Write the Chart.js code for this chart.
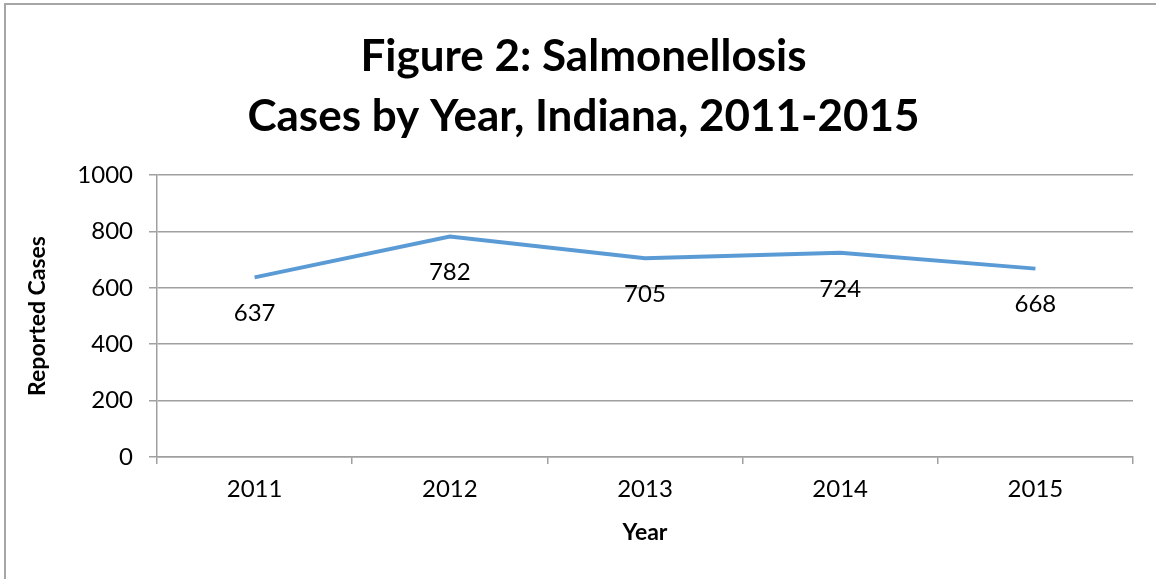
<!DOCTYPE html>
<html>
<head>
<meta charset="utf-8">
<script src="https://cdn.jsdelivr.net/npm/chart.js@4.4.1/dist/chart.umd.min.js"></script>
<style>
  html, body { margin: 0; padding: 0; background: #fff; }
  #wrap { width: 1156px; height: 579px; position: relative; }
</style>
</head>
<body>
<div id="wrap"><canvas id="myChart" width="1156" height="579"></canvas></div>
<script>
// chart data
const years = ["2011", "2012", "2013", "2014", "2015"];
const cases = [637, 782, 705, 724, 668];
const titleLines = ["Figure 2: Salmonellosis", "Cases by Year, Indiana, 2011-2015"];

const FONT = "Lato, 'Noto Sans', sans-serif";
const GRID = "#a0a0a0";

// outer frame of the figure (only top and left edges show)
const framePlugin = {
  id: "frame",
  beforeDraw(chart) {
    const ctx = chart.ctx;
    ctx.save();
    ctx.strokeStyle = "#a6a6a6";
    ctx.lineWidth = 2;
    ctx.strokeRect(5, 4, 1200, 700);
    ctx.restore();
  }
};

// value labels under each point
const valueLabels = {
  id: "valueLabels",
  afterDatasetsDraw(chart) {
    const ctx = chart.ctx;
    const meta = chart.getDatasetMeta(0);
    ctx.save();
    ctx.font = "24px " + FONT;
    ctx.fillStyle = "#000";
    ctx.textAlign = "center";
    ctx.textBaseline = "middle";
    meta.data.forEach((pt, i) => {
      ctx.fillText(String(cases[i]), pt.x, pt.y + 36);
    });
    ctx.restore();
  }
};

var ctx = document.getElementById("myChart").getContext("2d");
const myChart = new Chart(ctx, {
  type: "line",
  data: {
    labels: years,
    datasets: [
      {
        label: "Reported Cases",
        data: cases,
        borderColor: "#5B9BD5",
        borderWidth: 4,
        pointRadius: 0,
        tension: 0,
        fill: false
      }
    ]
  },
  options: {
    responsive: false,
    animation: false,
    layout: {
      padding: { left: 34, right: 23, top: 0, bottom: 22 }
    },
    plugins: {
      legend: { display: false },
      tooltip: { enabled: false },
      title: {
        display: true,
        text: titleLines,
        color: "#000",
        font: { family: FONT, size: 44, weight: "bold", lineHeight: 60 / 44 },
        padding: { top: 27, bottom: 28 }
      }
    },
    scales: {
      x: {
        offset: true,
        grid: {
          offset: true,
          drawOnChartArea: false,
          drawTicks: true,
          tickLength: 7,
          color: GRID,
          lineWidth: 1.5
        },
        border: { color: GRID, width: 1.5 },
        ticks: {
          color: "#000",
          font: { family: FONT, size: 24 },
          padding: 11,
          maxRotation: 0
        },
        title: {
          display: true,
          text: "Year",
          color: "#000",
          font: { family: FONT, size: 23, weight: "bold" },
          padding: { top: 0, bottom: 11 }
        },
        afterFit(scale) { scale.height = 100; }
      },
      y: {
        min: 0,
        max: 1000,
        ticks: {
          stepSize: 200,
          color: "#000",
          font: { family: FONT, size: 24 },
          padding: 16,
          callback: (v) => String(v)
        },
        grid: {
          color: GRID,
          lineWidth: 1.5,
          tickLength: 8
        },
        border: { color: GRID, width: 1.5 },
        title: {
          display: true,
          text: "Reported Cases",
          color: "#000",
          font: { family: FONT, size: 23, weight: "bold" },
          padding: { top: -10, bottom: 0 }
        },
        afterFit(scale) { scale.width = 123; }
      }
    }
  },
  plugins: [framePlugin, valueLabels]
});
</script>
</body>
</html>
